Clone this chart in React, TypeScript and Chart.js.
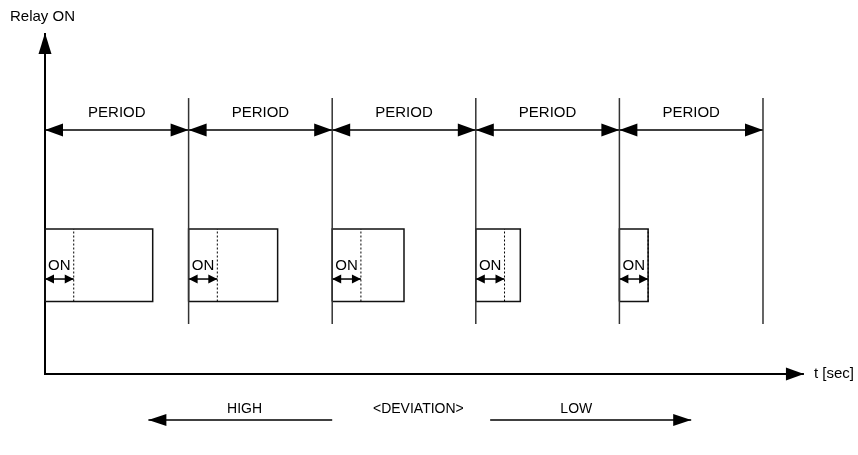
import React, { useEffect, useRef } from 'react';
import { Chart, registerables } from 'chart.js';

Chart.register(...registerables);

// ---- Data (time in control periods, relay level 1 = ON) ----
const periodBoundaries = [0, 1, 2, 3, 4, 5];
const periodLabels = ['PERIOD', 'PERIOD', 'PERIOD', 'PERIOD', 'PERIOD'];
const relayOnDurations = [0.75, 0.62, 0.5, 0.31, 0.2];
const minOnTimes = [0.2, 0.2, 0.2, 0.2, 0.2];
const onLabels = ['ON', 'ON', 'ON', 'ON', 'ON'];
const relayLevels = [0.5, 1];
const deviationLabels = ['HIGH', '<DEVIATION>', 'LOW'];
const highSpan = [2.0, 0.72];
const lowSpan = [3.1, 4.5];
const axisTitles = ['Relay ON', 't [sec]'];

// ---- Layout constants (data units) ----
const X_MIN = -0.3134;
const X_MAX = 5.6616;
const Y_MIN = -0.5586;
const Y_MAX = 2.5793;
const Y_AXIS_TIP = 2.352;
const X_AXIS_TIP = 5.285;
const PERIOD_LINE_TOP = 1.903;
const PERIOD_LINE_BOTTOM = 0.345;
const PERIOD_ARROW_Y = 1.683;
const PERIOD_LABEL_Y = 1.80;
const ON_LABEL_Y = 0.745;
const ON_ARROW_Y = 0.655;
const DEV_ARROW_Y = -0.317;
const DEV_LABEL_Y = -0.245;
const DEV_LABEL_X = [1.39, 2.6, 3.7];
const RELAY_LABEL_Y = 2.462;
const FONT = '"Liberation Sans", Arial, Helvetica, sans-serif';

type P = { x: number; y: number };

function seg(points: P[], color: string, width: number, dash: number[] = []) {
  return {
    type: 'scatter' as const,
    data: points,
    showLine: true,
    borderColor: color,
    backgroundColor: color,
    borderWidth: width,
    borderDash: dash,
    pointRadius: 0,
    pointHoverRadius: 0,
    fill: false,
    tension: 0,
  };
}

function buildDatasets() {
  const ds: any[] = [];
  // period boundary lines
  periodBoundaries.slice(1).forEach((b) => {
    ds.push(seg([{ x: b, y: PERIOD_LINE_BOTTOM }, { x: b, y: PERIOD_LINE_TOP }], '#333', 1.5));
  });
  // period arrows
  periodLabels.forEach((_, i) => {
    ds.push(seg([{ x: periodBoundaries[i], y: PERIOD_ARROW_Y }, { x: periodBoundaries[i + 1], y: PERIOD_ARROW_Y }], '#000', 1.5));
  });
  // relay boxes
  relayOnDurations.forEach((w, i) => {
    const s = periodBoundaries[i];
    const on = minOnTimes[i];
    ds.push(seg([{ x: s + on, y: relayLevels[0] }, { x: s + on, y: relayLevels[1] }], '#000', 1, [2, 2]));
    ds.push(seg([
      { x: s, y: relayLevels[0] },
      { x: s, y: relayLevels[1] },
      { x: s + w, y: relayLevels[1] },
      { x: s + w, y: relayLevels[0] },
      { x: s, y: relayLevels[0] },
    ], '#111', 1.5));
    ds.push(seg([{ x: s, y: ON_ARROW_Y }, { x: s + on, y: ON_ARROW_Y }], '#000', 1.5));
  });
  // deviation arrows
  ds.push(seg([{ x: highSpan[0], y: DEV_ARROW_Y }, { x: highSpan[1], y: DEV_ARROW_Y }], '#000', 1.5));
  ds.push(seg([{ x: lowSpan[0], y: DEV_ARROW_Y }, { x: lowSpan[1], y: DEV_ARROW_Y }], '#000', 1.5));
  // axes
  ds.push(seg([{ x: 0, y: Y_AXIS_TIP }, { x: 0, y: 0 }, { x: X_AXIS_TIP, y: 0 }], '#000', 2));
  return ds;
}

const decorPlugin = {
  id: 'diagramDecor',
  afterDatasetsDraw(chart: any) {
    const { ctx } = chart;
    const xs = chart.scales.x;
    const ys = chart.scales.y;
    const px = (v: number) => xs.getPixelForValue(v);
    const py = (v: number) => ys.getPixelForValue(v);
    ctx.save();
    ctx.fillStyle = '#000';
    const head = (tx: number, ty: number, dx: number, dy: number, len: number, wid: number) => {
      ctx.beginPath();
      ctx.moveTo(tx, ty);
      ctx.lineTo(tx - dx * len - dy * wid / 2, ty - dy * len + dx * wid / 2);
      ctx.lineTo(tx - dx * len + dy * wid / 2, ty - dy * len - dx * wid / 2);
      ctx.closePath();
      ctx.fill();
    };
    // axis arrows
    head(px(0), py(Y_AXIS_TIP), 0, -1, 21, 13);
    head(px(X_AXIS_TIP), py(0), 1, 0, 18, 13);
    // period arrows
    periodLabels.forEach((_, i) => {
      const a = px(periodBoundaries[i]);
      const b = px(periodBoundaries[i + 1]);
      const y = py(PERIOD_ARROW_Y);
      head(a, y, -1, 0, 18, 13);
      head(b, y, 1, 0, 18, 13);
    });
    // ON arrows
    minOnTimes.forEach((on, i) => {
      const s = periodBoundaries[i];
      const y = py(ON_ARROW_Y);
      head(px(s), y, -1, 0, 9, 9);
      head(px(s + on), y, 1, 0, 9, 9);
    });
    // deviation arrows
    head(px(highSpan[1]), py(DEV_ARROW_Y), -1, 0, 18, 12);
    head(px(lowSpan[1]), py(DEV_ARROW_Y), 1, 0, 18, 12);

    // texts
    ctx.textBaseline = 'middle';
    ctx.font = `15px ${FONT}`;
    ctx.textAlign = 'center';
    periodLabels.forEach((t, i) => {
      ctx.fillText(t, px((periodBoundaries[i] + periodBoundaries[i + 1]) / 2), py(PERIOD_LABEL_Y));
    });
    onLabels.forEach((t, i) => {
      ctx.fillText(t, px(periodBoundaries[i] + minOnTimes[i] / 2), py(ON_LABEL_Y));
    });
    ctx.font = `14px ${FONT}`;
    deviationLabels.forEach((t, i) => {
      ctx.fillText(t, px(DEV_LABEL_X[i]), py(DEV_LABEL_Y));
    });
    ctx.textAlign = 'left';
    ctx.font = `15px ${FONT}`;
    ctx.fillText(axisTitles[0], 10, py(RELAY_LABEL_Y));
    ctx.fillText(axisTitles[1], px(X_AXIS_TIP) + 10, py(0));
    ctx.restore();
  },
};

export default function App() {
  const ref = useRef<HTMLCanvasElement | null>(null);
  useEffect(() => {
    if (!ref.current) return;
    const chart = new Chart(ref.current, {
      type: 'scatter',
      data: { datasets: buildDatasets() },
      options: {
        animation: false,
        responsive: false,
        events: [],
        layout: { padding: 0 },
        plugins: { legend: { display: false }, tooltip: { enabled: false }, title: { display: false } },
        scales: {
          x: { type: 'linear', min: X_MIN, max: X_MAX, display: false },
          y: { type: 'linear', min: Y_MIN, max: Y_MAX, display: false },
        },
      },
      plugins: [decorPlugin],
    } as any);
    return () => chart.destroy();
  }, []);
  return (
    <div style={{ position: 'fixed', left: 0, top: 0, width: 858, height: 455, background: '#fff' }}>
      <canvas ref={ref} width={858} height={455} style={{ display: 'block' }} />
    </div>
  );
}
